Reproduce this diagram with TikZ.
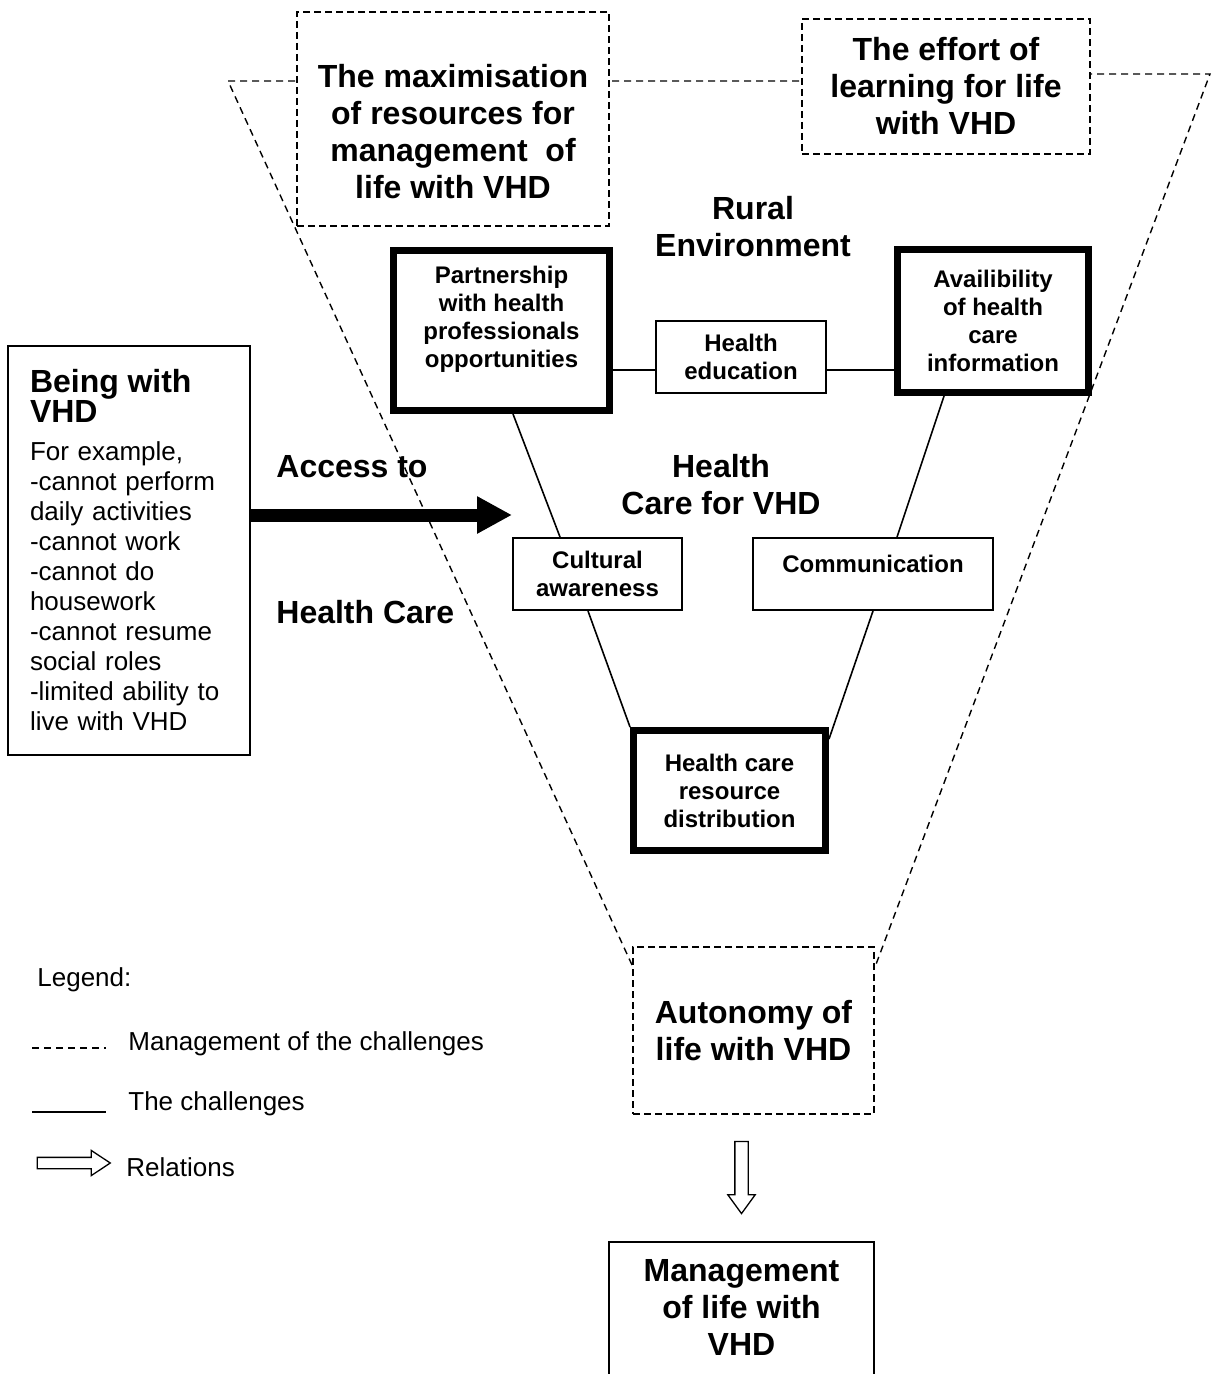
\documentclass[tikz,border=0pt]{standalone}
\usepackage{fontspec}
\setmainfont{Liberation Sans}
\usetikzlibrary{arrows.meta,positioning,calc,shapes.arrows,backgrounds}

\begin{document}
\begin{tikzpicture}[x=0.5pt,y=-0.5pt,
  every node/.style={align=center,inner sep=0pt},
  bigtxt/.style={font=\fontsize{16}{18.5}\selectfont\bfseries},
  boxtxt/.style={font=\fontsize{12}{14}\selectfont\bfseries},
  plaintxt/.style={font=\fontsize{13}{15}\selectfont},
  mgbox/.style={draw,dash pattern=on 3.5pt off 2pt,line width=0.9pt,fill=white},
  chbox/.style={draw,line width=3.3pt,fill=white},
  thinbox/.style={draw,line width=1pt,fill=white},
  cline/.style={line width=0.8pt},
  fline/.style={line width=0.7pt,dash pattern=on 3.5pt off 2.5pt},
  relarrow/.style={single arrow,draw,line width=0.65pt}]
\useasboundingbox (0,0) rectangle (1218,1374);

% management of the challenges
\node[mgbox,minimum width=156pt,minimum height=107pt,label={[bigtxt,yshift=-6.25pt]center:The maximisation\\of resources for\\management\ \ of\\life with VHD}] (maxi) at (453,119) {};
\node[mgbox,bigtxt,minimum width=144pt,minimum height=67.5pt] (effort) at (946,86.5) {The effort of\\learning for life\\with VHD};
\node[bigtxt] (rural) at (753,226.5) {Rural\\Environment};

% the challenges
\node[chbox,minimum width=108.2pt,minimum height=80.2pt,label={[boxtxt,yshift=5.75pt]center:Partnership\\with health\\professionals\\opportunities}] (part) at (501.5,330.5) {};
\node[thinbox,boxtxt,minimum width=85pt,minimum height=36pt] (heduc) at (741,357) {Health\\education};
\node[chbox,boxtxt,minimum width=95.7pt,minimum height=71.7pt] (avail) at (993,321) {Availibility\\of health\\care\\information};
\node[bigtxt] (hcare) at (721,484.5) {Health\\Care for VHD};
\node[thinbox,boxtxt,minimum width=84.5pt,minimum height=36pt] (cult) at (597.5,574) {Cultural\\awareness};
\node[thinbox,minimum width=120pt,minimum height=36pt,label={[boxtxt,yshift=5pt]center:Communication}] (comm) at (873,574) {};
\node[chbox,boxtxt,minimum width=96.2pt,minimum height=60.2pt] (hcrd) at (729.5,790.5) {Health care\\resource\\distribution};

\coordinate (hl) at ($(heduc.west)+(0,13)$);
\draw[cline] (part.east |- hl) -- (hl);
\draw[cline] (heduc.east |- hl) -- (avail.west |- hl);
\draw[cline] ($(part.south)+(11.5,0)$) -- ($(cult.north)+(-37.5,0)$);
\draw[cline] ($(avail.south)+(-49,0)$) -- ($(comm.north)+(24,0)$);
\draw[cline] ($(cult.south)+(-9.5,0)$) -- (hcrd.north west);
\draw[cline] (comm.south) -- ($(hcrd.north east)+(0,12)$);

% being with VHD
\node[thinbox,plaintxt,align=left,text width=99pt,inner xsep=11pt,minimum height=204.5pt] (being) at (129,550.5) {{\fontsize{16}{16}\selectfont\bfseries Being with\\VHD}\\[4pt]For example,\\-cannot perform\\daily activities\\-cannot work\\-cannot do\\housework\\-cannot resume\\social roles\\-limited ability to\\live with VHD};
\node[bigtxt,anchor=base west] (access) at (276,477) {Access to};
\node[bigtxt,anchor=base west] (hc) at (276,623) {Health Care};
\coordinate (aim) at (512,515);
\draw[line width=6.5pt,-{Triangle[length=17.5pt,width=17.5pt]}] (being.east |- aim) -- (aim);

% autonomy and management
\node[mgbox,bigtxt,minimum width=120.5pt,minimum height=83.5pt] (auto) at (753.5,1030.5) {Autonomy of\\life with VHD};
\node[thinbox,minimum width=132.5pt,minimum height=90pt,label={[bigtxt,yshift=12.5pt]center:Management\\of life with\\VHD}] (mgmt) at (741.5,1332) {};
\node[relarrow,shape border rotate=270,minimum height=36pt,inner xsep=3pt,inner ysep=0pt,single arrow head extend=3.5pt,single arrow tip angle=72] (rel) at ($(mgmt.north)+(0,-68)$) {};

% funnel
\coordinate (ftl) at (228,81);
\coordinate (ftr) at (1210,74);
\coordinate (fbl) at (632,965);
\coordinate (fbr) at (875,967);
\begin{scope}[on background layer]
\draw[fline] (fbl) -- (ftl) -- (ftl -| effort.center) -- (ftr -| effort.center) -- (ftr) -- (fbr);
\end{scope}

% legend
\node[plaintxt,anchor=base west] (legtitle) at (37,986) {Legend:};
\coordinate (l1a) at (32,1048);
\coordinate (l1b) at (106,1048);
\draw[fline] (l1a) -- (l1b);
\node[plaintxt,anchor=base west] (leg1) at (128,1050) {Management of the challenges};
\coordinate (l2a) at (32,1112);
\coordinate (l2b) at (106,1112);
\draw[line width=1pt] (l2a) -- (l2b);
\node[plaintxt,anchor=base west] (leg2) at (128,1110) {The challenges};
\node[relarrow,minimum height=36.5pt,inner xsep=0pt,inner ysep=2.5pt,single arrow head extend=3.5pt,single arrow tip angle=67] (legarr) at (69.5,1163) {};
\node[plaintxt,anchor=base west] (leg3) at (126,1176) {Relations};
\end{tikzpicture}
\end{document}
